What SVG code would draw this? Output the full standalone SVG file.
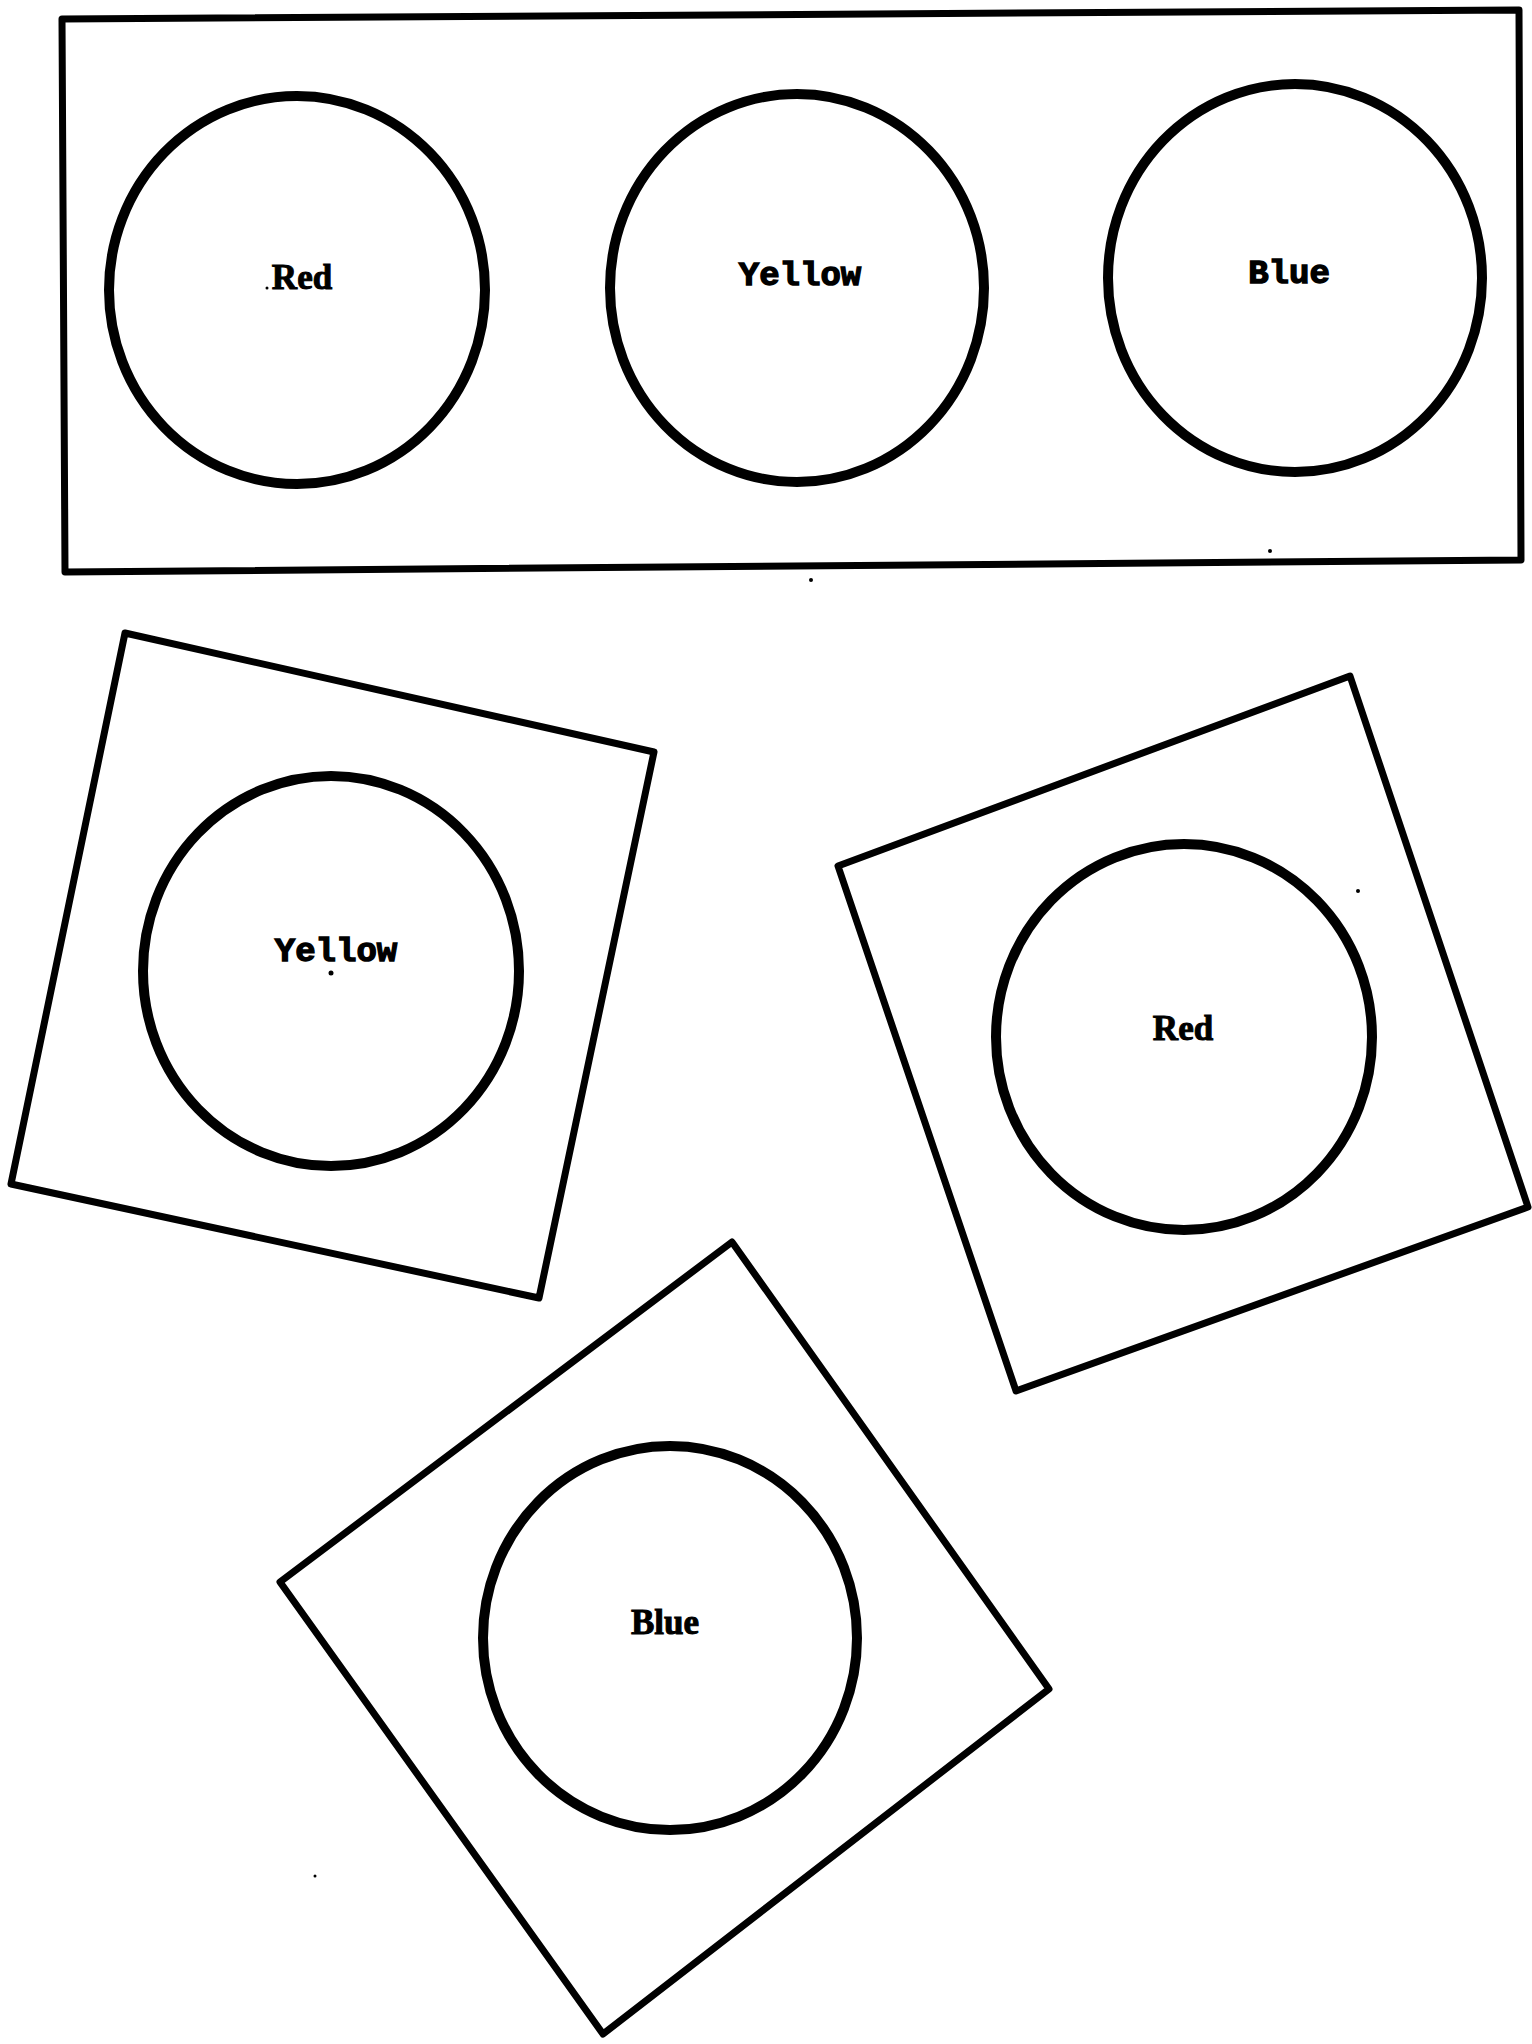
<svg xmlns="http://www.w3.org/2000/svg" width="1532" height="2044" viewBox="0 0 1532 2044">
<style>
.frame{fill:none;stroke:#000;stroke-width:7;stroke-linejoin:round;stroke-linecap:round}
.disc{fill:none;stroke:#000;stroke-width:10}
.serif{font-family:"Liberation Serif","DejaVu Serif",serif;font-weight:bold;font-size:35px;fill:#000;stroke:#000;stroke-width:1;text-anchor:middle}
.mono{font-family:"Liberation Mono","DejaVu Sans Mono",monospace;font-weight:bold;font-size:34px;fill:#000;stroke:#000;stroke-width:1.4;text-anchor:middle}
.speck{fill:#000}
</style>
<rect width="1532" height="2044" fill="#fff"/>
<g id="palette">
<path class="frame" d="M62,19 L1519,10 L1521,560 L65,572 Z"/>
<g id="palette-red">
<ellipse class="disc" cx="297" cy="290" rx="188" ry="194"/>
<text class="serif" x="302" y="289">Red</text>
</g>
<g id="palette-yellow">
<ellipse class="disc" cx="797" cy="288" rx="187" ry="194"/>
<text class="mono" x="800" y="285">Yellow</text>
</g>
<g id="palette-blue">
<ellipse class="disc" cx="1295" cy="278" rx="187" ry="194"/>
<text class="mono" x="1289" y="283">Blue</text>
</g>
</g>
<g id="card-yellow">
<path class="frame" d="M125,633 L654,752 L539,1298 L11,1184 Z"/>
<ellipse class="disc" cx="331" cy="971" rx="188" ry="195"/>
<text class="mono" x="336" y="961">Yellow</text>
<circle class="speck" cx="331" cy="973" r="2.5"/>
</g>
<g id="card-red">
<path class="frame" d="M838,866 L1350,676 L1528,1207 L1016,1391 Z"/>
<ellipse class="disc" cx="1184" cy="1037" rx="188" ry="193"/>
<text class="serif" x="1183" y="1040">Red</text>
<circle class="speck" cx="1358" cy="891" r="2"/>
</g>
<g id="card-blue">
<path class="frame" d="M732,1242 L1049,1689 L603,2034 L280,1582 Z"/>
<ellipse class="disc" cx="670" cy="1638" rx="187" ry="192"/>
<text class="serif" x="665" y="1634">Blue</text>
</g>
<g id="connectors"></g>
<g id="specks">
<circle class="speck" cx="267" cy="288" r="1.5"/>
<circle class="speck" cx="811" cy="580" r="2"/>
<circle class="speck" cx="1270" cy="551" r="2"/>
<circle class="speck" cx="315" cy="1876" r="1.5"/>
</g>
</svg>
